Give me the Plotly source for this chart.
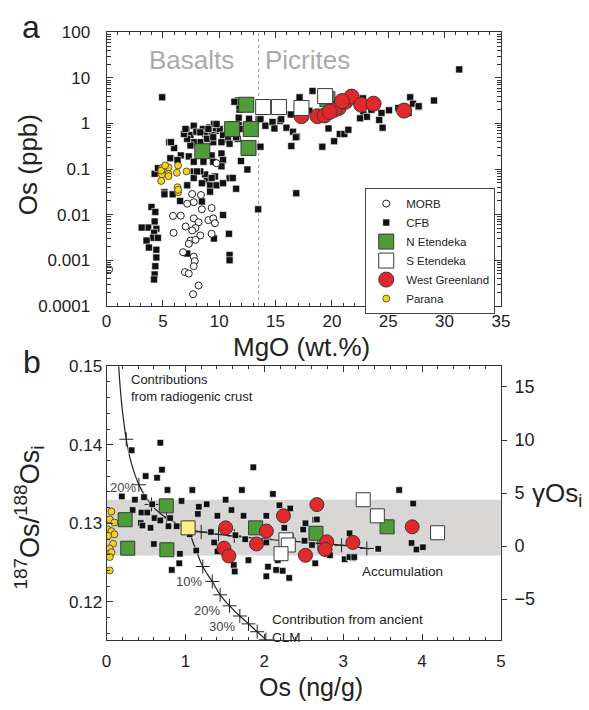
import plotly.graph_objects as go

W, H = 589, 710
FONT = "Liberation Sans, Arial, sans-serif"

# ---------------- Panel a: Os (ppb) vs MgO (wt.%) ----------------
morb_mgo = [7.6, 8.38, 7.74, 7.16, 8.46, 9.33, 6.59, 7.74, 8.17, 9.04, 9.47, 9.62, 7.02, 7.89, 7.6, 5.95,
            8.32, 9.33, 7.45, 7.89, 7.3, 6.79, 7.74, 7.83, 7.74, 6.96, 7.3, 8.17, 7.68, 0.23, 9.76, 5.9]
morb_os = [0.0284, 0.027, 0.0188, 0.0174, 0.0131, 0.014, 0.0095, 0.0083, 0.0068, 0.0076, 0.0083, 0.0065,
           0.0055, 0.0051, 0.0045, 0.004, 0.0035, 0.0038, 0.0027, 0.0028, 0.0023, 0.0015, 0.0012, 0.00096,
           0.00074, 0.00055, 0.00051, 0.00028, 0.00018, 0.00063, 0.135, 0.0094]

cfb_mgo = [4.94, 11.64, 11.79, 11.73, 12.65, 14.1, 11.73,
           7.1, 7.45, 7.74, 7.97, 8.55, 8.75, 9.13, 9.53, 9.7, 9.33, 10.05, 10.34, 10.77, 10.2, 9.47, 8.9,
           8.32, 7.74, 7.45, 7.16, 6.87, 11.64, 11.93, 12.5, 10.92, 6.0, 5.57, 6.59, 7.3, 7.74, 8.6, 9.33,
           10.2, 10.34, 10.2, 9.62, 8.75, 8.32, 7.74, 7.74, 8.9, 4.27, 5.66, 6.3, 11.07, 10.92,
           5.72, 4.56, 8.03, 9.47, 9.33, 11.2, 7.0, 8.32, 9.04, 9.76, 9.47, 11.5, 11.8, 13.5, 11.8, 11.35,
           5.14, 5.87, 6.53, 7.16, 8.46, 9.19, 9.76, 10.34, 11.5, 8.46, 9.19, 3.99, 4.33, 4.27, 4.42, 3.7,
           3.12, 4.22, 4.13, 3.55, 4.56, 3.76, 4.42, 4.42, 4.33, 4.27, 4.22, 10.34, 10.86, 9.53, 10.92,
           10.92, 7.16, 13.46, 5.14,
           13.66, 14.1, 14.73, 15.4, 15.97, 16.35, 17.13, 16.55, 16.9, 16.4, 18.28, 19.7, 20.2, 20.7, 21.1,
           21.46, 19.15, 22.8, 23.1, 24.4, 24.5, 25.07, 22.76, 25.9, 26.95, 27.2, 27.7, 26.8, 13.66, 14.9,
           15.5, 31.3, 29.06, 27.7, 16.8, 16.84, 18.0, 19.0, 23.5, 24.2, 22.5]
cfb_os = [3.76, 3.19, 2.02, 1.34, 1.27, 0.92, 0.92,
          0.73, 0.56, 0.89, 0.66, 0.76, 0.59, 0.82, 0.97, 0.69, 0.56, 0.76, 0.55, 0.43, 0.39, 0.39, 0.46,
          0.39, 0.39, 0.33, 0.46, 0.59, 0.46, 0.15, 0.098, 0.36, 0.29, 0.39, 0.2, 0.19, 0.145, 0.145, 0.2,
          0.22, 0.158, 0.115, 0.069, 0.076, 0.089, 0.089, 0.064, 0.055, 0.079, 0.173, 0.158, 0.064, 0.063,
          0.39, 0.105, 0.089, 0.145, 0.064, 0.064, 0.76, 0.64, 0.76, 0.97, 0.5, 0.5, 0.76, 1.24, 2.38, 3.0,
          0.031, 0.028, 0.020, 0.044, 0.049, 0.044, 0.044, 0.049, 0.037, 0.0195, 0.032, 0.0148, 0.0115,
          0.0071, 0.0049, 0.0052, 0.0052, 0.004, 0.0031, 0.0027, 0.0031, 0.0019, 0.0017, 0.00115, 0.00074,
          0.00049, 0.00038, 0.0098, 0.0038, 0.003, 0.0013, 0.001, 0.0014, 0.0131, 0.028,
          1.24, 0.89, 1.08, 1.14, 0.81, 1.58, 3.76, 0.66, 0.52, 0.32, 5.2, 0.78, 0.41, 0.59, 0.59,
          0.73, 0.31, 1.58, 1.4, 1.71, 0.81, 1.95, 3.57, 2.19, 3.76, 2.72, 2.3, 1.71, 0.31, 0.78,
          1.24, 15.4, 3.2, 2.4, 0.5, 0.0295, 1.9, 1.7, 2.0, 1.2, 1.3]

netendeka_mgo = [12.4, 11.15, 12.8, 12.6, 8.5, 19.6]
netendeka_os = [2.58, 0.755, 0.755, 0.291, 0.247, 3.4]

setendeka_mgo = [13.9, 15.3, 17.3, 19.4]
setendeka_os = [2.3, 2.3, 2.19, 4.0]

wgreen_mgo = [17.3, 18.72, 19.35, 20.0, 20.6, 21.2, 21.75, 22.6, 23.7, 26.4, 20.2, 19.8, 20.9]
wgreen_os = [1.45, 1.45, 1.5, 2.1, 2.19, 3.0, 3.9, 2.58, 2.72, 1.92, 2.0, 1.8, 3.1]

parana_mgo = [4.91, 5.49, 6.35, 7.1, 6.24, 5.49, 4.91, 4.85, 4.85, 6.3, 6.35, 5.2, 5.5, 6.35]
parana_os = [0.105, 0.109, 0.12, 0.089, 0.083, 0.079, 0.076, 0.055, 0.093, 0.04, 0.031, 0.12, 0.07, 0.035]

mgo_boundary = 13.5
os_tickvals = [0.0001, 0.001, 0.01, 0.1, 1, 10, 100]
os_ticktext = ["0.0001", "0.001", "0.01", "0.1", "1", "10", "100"]

# ---------------- Panel b: 187Os/188Os(i) vs Os (ng/g) ----------------
b_cfb_os = [0.682, 0.318, 0.703, 0.496, 0.641, 0.773, 1.088, 1.716, 1.861, 2.109, 3.71, 0.194, 0.36, 0.475,
            0.579, 1.51, 1.27, 2.192, 2.329, 1.584, 1.737, 2.026, 1.158, 1.406, 0.331, 0.443, 0.517, 0.608,
            0.682, 0.806, 0.889, 0.558, 0.434, 0.455, 0.785, 0.6, 0.93, 0.827, 0.922, 1.137, 1.365, 1.406,
            1.613, 1.625, 1.799, 2.047, 2.15, 2.233, 2.316, 2.026, 2.171, 2.254, 2.336, 2.522, 2.646, 2.51,
            2.605, 2.792, 2.646, 2.833, 3.081, 3.123, 3.019, 3.445, 3.887, 3.867, 3.929, 4.011, 1.055, 1.324,
            1.634, 1.758, 2.026, 0.951, 1.17, 3.08, 3.14, 2.522, 2.667, 2.494]
b_cfb_r = [0.14025, 0.1393, 0.13683, 0.13601, 0.1358, 0.13424, 0.13424, 0.13424, 0.13712, 0.13374, 0.13424,
           0.13342, 0.133, 0.13333, 0.13243, 0.133, 0.13243, 0.1323, 0.13189, 0.13169, 0.13095, 0.13095,
           0.1312, 0.13095, 0.13169, 0.13136, 0.13136, 0.13066, 0.13037, 0.13066, 0.12963, 0.12942, 0.13004,
           0.12971, 0.12963, 0.12737, 0.12613, 0.12407, 0.1249, 0.12654, 0.12757, 0.12642, 0.12469, 0.12387,
           0.12531, 0.12448, 0.12407, 0.12395, 0.12305, 0.12325, 0.12531, 0.12942, 0.1284, 0.13004, 0.13046,
           0.12778, 0.12724, 0.12798, 0.1249, 0.12593, 0.12873, 0.1256, 0.12543, 0.12675, 0.13251, 0.1275,
           0.12667, 0.12695, 0.1286, 0.12889, 0.12848, 0.12798, 0.12757, 0.13284, 0.1321, 0.1257, 0.1257,
           0.1300, 0.1305, 0.1292]

b_parana_os = [0.062, 0.041, 0.10, 0.02, 0.062, 0.10, 0.02, 0.083, 0.041, 0.062, 0.041, 0.041]
b_parana_r = [0.1315, 0.1305, 0.1301, 0.1292, 0.1290, 0.1286, 0.1284, 0.1274, 0.1268, 0.1263, 0.1257, 0.1240]

b_netendeka_os = [0.236, 0.757, 0.269, 0.765, 1.89, 2.655, 3.557]
b_netendeka_r = [0.13046, 0.13222, 0.12683, 0.12663, 0.12942, 0.12873, 0.12955]

b_highlight_os = [1.034]
b_highlight_r = [0.12942]

b_setendeka_os = [3.254, 3.433, 4.197, 2.275, 2.304, 2.212]
b_setendeka_r = [0.1330, 0.13095, 0.1288, 0.1279, 0.12724, 0.12613]

b_wgreen_os = [2.667, 2.243, 1.51, 2.026, 1.902, 1.489, 1.551, 2.522, 2.792, 2.771, 3.123, 3.875]
b_wgreen_r = [0.13238, 0.13095, 0.12942, 0.12901, 0.12737, 0.12683, 0.12584, 0.12593, 0.12765, 0.12667,
              0.12757, 0.12955]

# model curves and their tick marks
crust_os = [0.155, 0.17, 0.19, 0.21, 0.25, 0.30, 0.36, 0.42, 0.50, 0.60, 0.70, 0.80, 0.90, 1.0]
crust_r = [0.1500, 0.1477, 0.1454, 0.1436, 0.1407, 0.1382, 0.1362, 0.1347, 0.1333, 0.1320, 0.1311,
           0.1305, 0.1299, 0.1295]
crust_tick_os = [0.25, 0.41, 0.57, 0.76]
crust_tick_r = [0.1407, 0.1349, 0.1324, 0.1307]

accum_os = [1.0, 1.2, 1.5, 2.0, 2.5, 3.0, 3.33]
accum_r = [0.1294, 0.1289, 0.1285, 0.1280, 0.1276, 0.1272, 0.12675]
accum_tick_os = [1.2, 1.42, 1.62, 2.0, 2.32, 2.68, 2.98, 3.3]
accum_tick_r = [0.1289, 0.1286, 0.1284, 0.1280, 0.1277, 0.1274, 0.1272, 0.1268]

clm_os = [1.06, 1.10, 1.14, 1.18, 1.22, 1.28, 1.34, 1.44, 1.56, 1.69, 1.80, 1.91, 2.02]
clm_r = [0.1286, 0.1275, 0.1265, 0.1254, 0.1245, 0.1235, 0.1226, 0.1209, 0.1195, 0.1182, 0.1172,
         0.1162, 0.1152]
clm_tick_os = [1.22, 1.34, 1.44, 1.56, 1.69, 1.80, 1.91, 2.02]
clm_tick_r = [0.1245, 0.1226, 0.1209, 0.1195, 0.1182, 0.1172, 0.1162, 0.1152]

band_r = [0.1259, 0.1330]   # grey field of primitive mantle ratios
gamma_ticks = [-5, 0, 5, 10, 15]

# ---------------- colours ----------------
GREEN = "#4e9d38"
RED = "#e3282a"
YELLOW = "#f6d21a"
PALE = "#fbf08a"
EDGE = "#3a3a3a"

fig = go.Figure()


def add(x, y, name, xa, ya, size, color, symbol, lw, lc, rank, show):
    fig.add_trace(go.Scatter(
        x=x, y=y, mode="markers", name=name, xaxis=xa, yaxis=ya,
        showlegend=show, legendrank=rank,
        marker=dict(size=size, color=color, symbol=symbol, line=dict(width=lw, color=lc)),
        hoverinfo="skip"))


# panel a
add(cfb_mgo, cfb_os, "CFB", "x", "y", 7, "#111111", "square", 0.6, "white", 2, True)
add(morb_mgo, morb_os, "MORB", "x", "y", 7, "white", "circle", 1, "#222222", 1, True)
add(parana_mgo, parana_os, "Parana", "x", "y", 7, YELLOW, "circle", 0.8, EDGE, 6, True)
add(netendeka_mgo, netendeka_os, "N Etendeka", "x", "y", 15, GREEN, "square", 1, EDGE, 3, True)
add(wgreen_mgo, wgreen_os, "West Greenland", "x", "y", 15, RED, "circle", 1, EDGE, 5, True)
add(setendeka_mgo, setendeka_os, "S Etendeka", "x", "y", 15, "white", "square", 1, EDGE, 4, True)

# panel b curves
for cx, cy in [(crust_os, crust_r), (accum_os, accum_r), (clm_os, clm_r)]:
    fig.add_trace(go.Scatter(x=cx, y=cy, mode="lines", xaxis="x2", yaxis="y2", showlegend=False,
                             line=dict(color="#222222", width=1.2, shape="spline"), hoverinfo="skip"))
for tx, ty in [(crust_tick_os, crust_tick_r), (accum_tick_os, accum_tick_r), (clm_tick_os, clm_tick_r)]:
    fig.add_trace(go.Scatter(x=tx, y=ty, mode="markers", xaxis="x2", yaxis="y2", showlegend=False,
                             marker=dict(symbol="cross-thin", size=10, line=dict(width=1, color="#222222")),
                             hoverinfo="skip"))

# panel b samples
add(b_cfb_os, b_cfb_r, "CFB", "x2", "y2", 6.5, "#111111", "square", 0.6, "white", 2, False)
add(b_parana_os, b_parana_r, "Parana", "x2", "y2", 7, YELLOW, "circle", 0.8, EDGE, 6, False)
add(b_netendeka_os, b_netendeka_r, "N Etendeka", "x2", "y2", 14, GREEN, "square", 1, EDGE, 3, False)
add(b_highlight_os, b_highlight_r, "", "x2", "y2", 14, PALE, "square", 1, EDGE, 7, False)
add(b_wgreen_os, b_wgreen_r, "West Greenland", "x2", "y2", 14, RED, "circle", 1, EDGE, 5, False)
add(b_setendeka_os, b_setendeka_r, "S Etendeka", "x2", "y2", 14, "white", "square", 1, EDGE, 4, False)

# placeholder trace on the gamma axis so it renders
fig.add_trace(go.Scatter(x=[None], y=[None], xaxis="x2", yaxis="y3", showlegend=False, hoverinfo="skip"))

xdom = [104 / W, 508 / W]
ya_dom = [(H - 305) / H, (H - 24) / H]
yb_dom = [(H - 648) / H, (H - 367) / H]
axcol = "#333333"
common = dict(showgrid=False, zeroline=False, showline=True, linecolor=axcol, linewidth=1,
              tickcolor=axcol, tickfont=dict(family=FONT, size=17, color="#222222"))

fig.update_layout(
    width=W, height=H, margin=dict(l=0, r=0, t=0, b=0),
    paper_bgcolor="white", plot_bgcolor="white",
    font=dict(family=FONT, color="#222222"),
    xaxis=dict(domain=xdom, anchor="y", range=[0, 35], dtick=5, ticks="inside", ticklen=6,
               mirror="ticks", minor=dict(ticks="inside", ticklen=3, dtick=1, tickcolor=axcol), **common),
    yaxis=dict(domain=ya_dom, anchor="x", type="log", range=[-4, 2], tickvals=os_tickvals,
               ticktext=os_ticktext, ticks="inside", ticklen=6, mirror="ticks", ticklabelstandoff=12,
               minor=dict(ticks="inside", ticklen=4, dtick="D1", tickcolor=axcol), **common),
    xaxis2=dict(domain=xdom, anchor="y2", range=[0, 5], dtick=1, ticks="inside", ticklen=6,
                mirror="ticks", ticklabelstandoff=6,
                minor=dict(ticks="inside", ticklen=3, dtick=0.2, tickcolor=axcol), **common),
    yaxis2=dict(domain=yb_dom, anchor="x2", range=[0.11519, 0.15], tickvals=[0.12, 0.13, 0.14, 0.15],
                ticktext=["0.12", "0.13", "0.14", "0.15"], ticks="inside", ticklen=6, mirror=True,
                minor=dict(ticks="inside", ticklen=3, dtick=0.002, tick0=0.12, tickcolor=axcol), **common),
    yaxis3=dict(overlaying="y2", anchor="x2", side="right", range=[-8.82, 16.96], tickvals=gamma_ticks,
                ticks="outside", ticklen=5, showgrid=False, zeroline=False, showline=False,
                tickcolor=axcol, tickfont=dict(family=FONT, size=18, color="#222222"), ticklabelstandoff=4),
    legend=dict(x=369 / W, y=1 - 184 / H, xanchor="left", yanchor="top", bgcolor="white",
                bordercolor="#444444", borderwidth=1, itemsizing="trace", traceorder="normal",
                font=dict(family=FONT, size=11.5, color="#222222")),
    shapes=[
        dict(type="rect", xref="x2", yref="y2", x0=0, x1=5, y0=band_r[0], y1=band_r[1],
             fillcolor="#d9d6d6", line=dict(width=0), layer="below"),
        dict(type="line", xref="x", yref="y domain", x0=mgo_boundary, x1=mgo_boundary, y0=0, y1=1,
             line=dict(color="#9a9a9a", width=1, dash="dot"), layer="below"),
    ],
)

ann = []


def paper_text(text, x, y, size, angle=0, xanchor="center", color="#222222"):
    ann.append(dict(text=text, x=x / W, y=1 - y / H, xref="paper", yref="paper", showarrow=False,
                    xanchor=xanchor, yanchor="middle", textangle=angle,
                    font=dict(family=FONT, size=size, color=color)))


def data_text(text, x, y, xa, ya, size, xanchor="center", color="#222222"):
    ann.append(dict(text=text, x=x, y=y, xref=xa, yref=ya, showarrow=False, xanchor=xanchor,
                    yanchor="middle", align="left", font=dict(family=FONT, size=size, color=color)))


paper_text("a", 27, 19, 32)
paper_text("b", 28, 363, 32)
paper_text("Os (ppb)", 23, 160, 26, angle=-90)
paper_text("MgO (wt.%)", 304, 347, 26)
paper_text("<sup>187</sup>Os/<sup>188</sup>Os<sub>i</sub>", 25, 522, 27, angle=-90)
paper_text("Os (ng/g)", 313, 697, 25)
paper_text("\u03b3Os<sub>i</sub>", 538, 499, 26, xanchor="left")

data_text("Basalts", 7.58, 1.402, "x", "y", 26, color="#aaaaaa")
data_text("Picrites", 17.85, 1.402, "x", "y", 26, color="#aaaaaa")

data_text("Contributions<br>from radiogenic crust", 0.285, 0.14727, "x2", "y2", 13, xanchor="left")
data_text("Accumulation", 3.21, 0.12384, "x2", "y2", 13.5, xanchor="left")
data_text("Contribution from ancient<br>CLM", 2.07, 0.11660, "x2", "y2", 13.5, xanchor="left")
data_text("20%", 0.21, 0.1346, "x2", "y2", 13, color="#444444")
data_text("10%", 1.04, 0.12263, "x2", "y2", 13, color="#444444")
data_text("20%", 1.27, 0.11893, "x2", "y2", 13, color="#444444")
data_text("30%", 1.46, 0.11683, "x2", "y2", 13, color="#444444")

fig.update_layout(annotations=ann)
fig.write_html("out.html")
